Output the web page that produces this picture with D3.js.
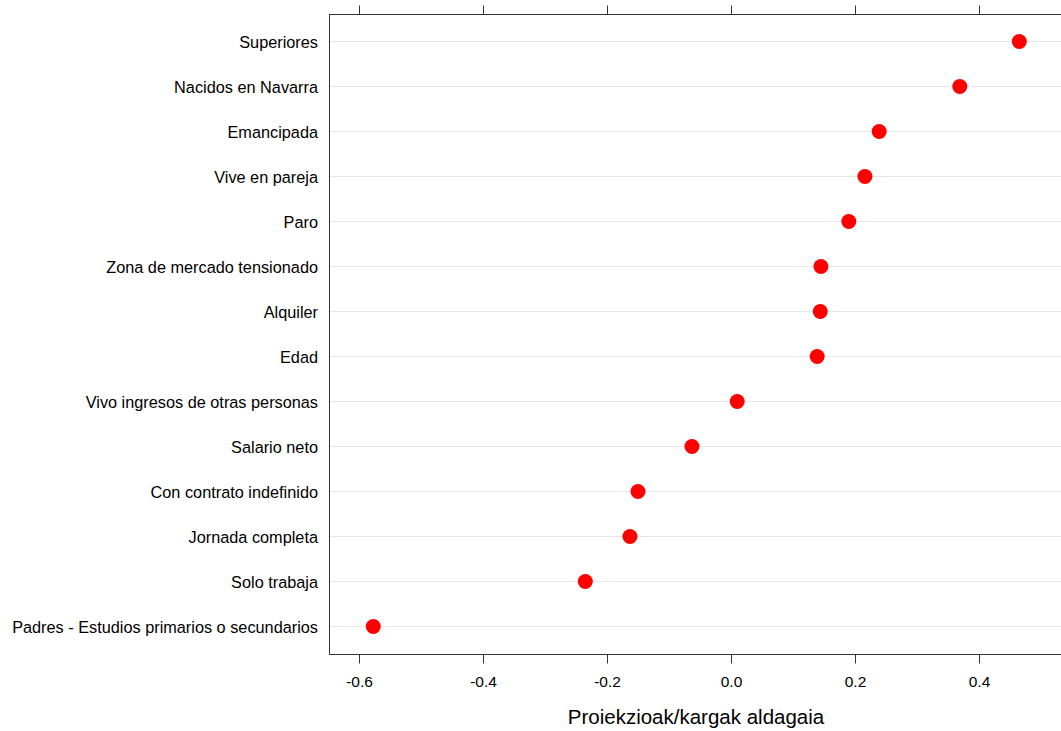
<!DOCTYPE html>
<html><head><meta charset="utf-8">
<script src="https://cdn.jsdelivr.net/npm/d3@7"></script>
<style>body{margin:0;background:#fff;overflow:hidden}svg{display:block;font-family:"Liberation Sans",Arial,sans-serif}</style>
</head><body>
<svg id="c" width="1061" height="731"></svg>
<script>
const categories = ["Superiores","Nacidos en Navarra","Emancipada","Vive en pareja","Paro","Zona de mercado tensionado","Alquiler","Edad","Vivo ingresos de otras personas","Salario neto","Con contrato indefinido","Jornada completa","Solo trabaja","Padres - Estudios primarios o secundarios"];
const values = [0.465, 0.369, 0.239, 0.216, 0.190, 0.145, 0.144, 0.139, 0.010, -0.063, -0.150, -0.163, -0.235, -0.577];
const xTicks = [-0.6, -0.4, -0.2, 0.0, 0.2, 0.4];
const xTitle = "Proiekzioak/kargak aldagaia";

const svg = d3.select("#c");
const L = 329, R = 1066, T = 14, B = 654;
const x = d3.scaleLinear().domain([-0.6484, 0.5403]).range([L, R]);
const y = d3.scalePoint().domain(categories).range([T + 27, B - 28]);

// grid
svg.append("g").selectAll("line").data(categories).join("line")
  .attr("x1", L).attr("x2", R).attr("y1", d => y(d) + 0.5).attr("y2", d => y(d) + 0.5)
  .attr("stroke", "#e6e6e6").attr("stroke-width", 1);

// frame
svg.append("rect").attr("x", L + 0.5).attr("y", T + 0.5).attr("width", R - L).attr("height", B - T)
  .attr("fill", "none").attr("stroke", "#333").attr("stroke-width", 1);

// bottom axis
const fmt = d => d3.format(".1f")(d).replace("\u2212", "-");
const bAx = svg.append("g").attr("transform", `translate(0,${B + 0.5})`)
  .call(d3.axisBottom(x).tickValues(xTicks).tickFormat(fmt).tickSize(9).tickPadding(12));
bAx.select(".domain").remove();
bAx.selectAll("line").attr("stroke", "#333");
bAx.selectAll("text").attr("font-size", 15.5).attr("fill", "#000").attr("font-family", "Liberation Sans, Arial, sans-serif");

// top axis ticks
const tAx = svg.append("g").attr("transform", `translate(0,${T + 0.5})`)
  .call(d3.axisTop(x).tickValues(xTicks).tickFormat("").tickSize(9));
tAx.select(".domain").remove();
tAx.selectAll("line").attr("stroke", "#333");

// y labels
svg.append("g").selectAll("text").data(categories).join("text")
  .attr("x", 318).attr("y", d => y(d) + 1).attr("dy", "0.35em")
  .attr("text-anchor", "end").attr("font-size", 16.3).attr("fill", "#000").text(d => d);

// points
svg.append("g").selectAll("circle").data(categories).join("circle")
  .attr("cx", (d, i) => x(values[i])).attr("cy", d => y(d) + 0.5).attr("r", 7.5)
  .attr("fill", "#ff0000");

// title
svg.append("text").attr("x", 696).attr("y", 724).attr("text-anchor", "middle")
  .attr("font-size", 20.5).attr("fill", "#000").text(xTitle);
</script>
</body></html>
